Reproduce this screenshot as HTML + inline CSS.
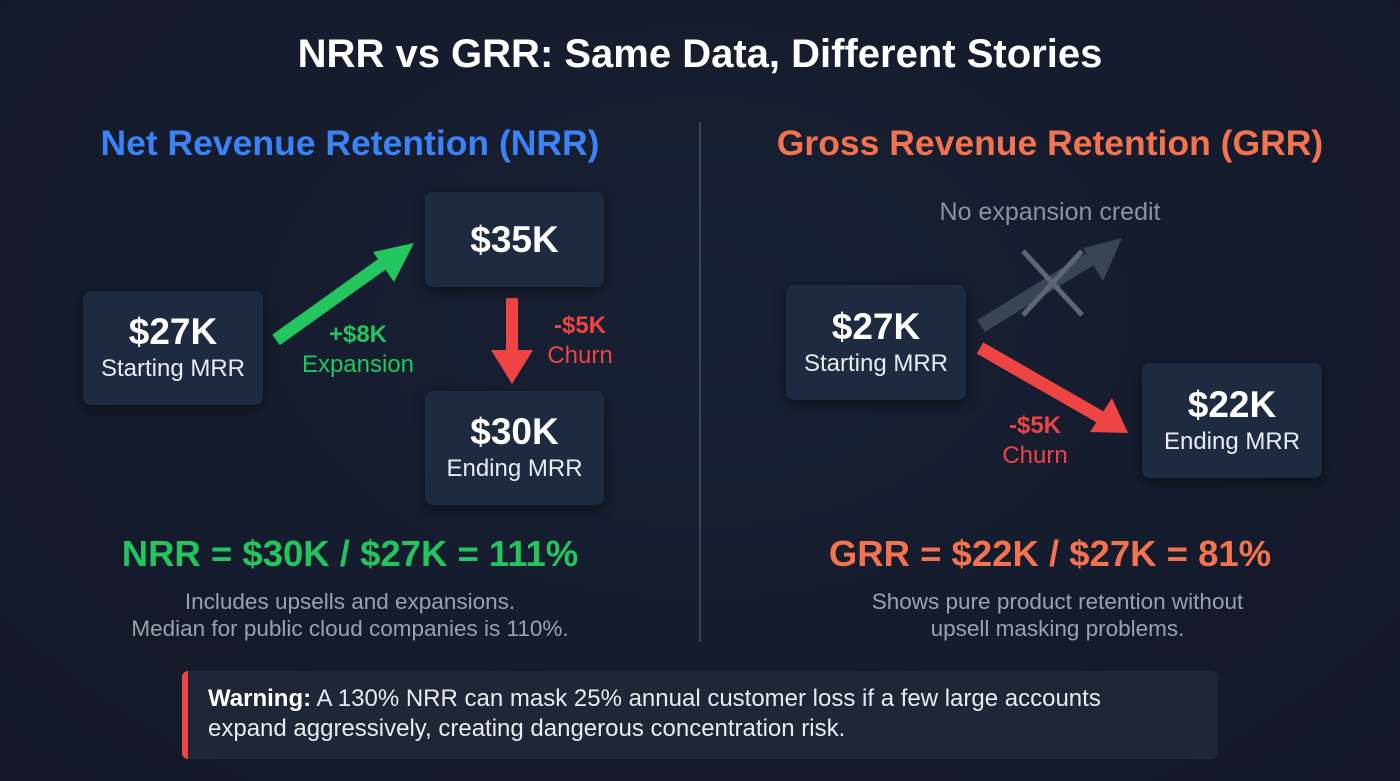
<!DOCTYPE html>
<html><head><meta charset="utf-8"><style>
body{margin:0;width:1400px;height:781px;background:radial-gradient(ellipse at 50% 40%,#182034,#121827);font-family:"Liberation Sans",sans-serif;position:relative;overflow:hidden;color:#fff}
.t{position:absolute;text-align:center;white-space:nowrap}
.box{position:absolute;background:#1e2a40;border-radius:8px;box-shadow:0 4px 12px rgba(0,0,0,.45);text-align:center;display:flex;flex-direction:column;justify-content:center;align-items:center}
.box b{font-size:37px;line-height:42px}
.box span{font-size:24px;line-height:32px;color:#e8ecf2}
</style></head><body>
<div class="t" style="left:0;width:1400px;top:32px;font-size:40px;font-weight:bold">NRR vs GRR: Same Data, Different Stories</div>
<div class="t" style="left:50px;width:600px;top:123px;font-size:35.5px;font-weight:bold;color:#3b82f6">Net Revenue Retention (NRR)</div>
<div class="t" style="left:750px;width:600px;top:123px;font-size:35.5px;font-weight:bold;color:#f4734f">Gross Revenue Retention (GRR)</div>
<div style="position:absolute;left:699px;top:122px;width:2px;height:520px;background:#3a4354"></div>

<svg width="1400" height="781" style="position:absolute;left:0;top:0">
<line x1="276" y1="340" x2="385" y2="262" stroke="#22c55e" stroke-width="13"/>
<polygon points="414,243 394,282 373,252" fill="#22c55e"/>
<line x1="512" y1="298" x2="512" y2="350" stroke="#ef4444" stroke-width="12"/>
<polygon points="491,350 533,350 512,384" fill="#ef4444"/>
<line x1="981" y1="326" x2="1095" y2="256" stroke="#394455" stroke-width="14"/>
<polygon points="1122,238 1103,281 1083,248" fill="#394455"/>
<line x1="1023" y1="251" x2="1082" y2="315" stroke="#5f6673" stroke-width="5"/>
<line x1="1082" y1="251" x2="1023" y2="315" stroke="#5f6673" stroke-width="5"/>
<line x1="980" y1="348" x2="1102" y2="418" stroke="#ef4444" stroke-width="13"/>
<polygon points="1090,432 1112,398 1128,433" fill="#ef4444"/>
</svg>

<div class="box" style="left:83px;top:291px;width:180px;height:114px"><b>$27K</b><span>Starting MRR</span></div>
<div class="box" style="left:425px;top:192px;width:179px;height:95px"><b>$35K</b></div>
<div class="box" style="left:425px;top:391px;width:179px;height:114px"><b>$30K</b><span>Ending MRR</span></div>
<div class="t" style="left:298px;width:120px;top:320px;color:#22c55e;font-size:24px;line-height:30px"><b>+$8K</b><br>Expansion</div>
<div class="t" style="left:530px;width:100px;top:311px;color:#ef4444;font-size:24px;line-height:30px"><b>-$5K</b><br>Churn</div>

<div class="box" style="left:786px;top:285px;width:180px;height:115px"><b>$27K</b><span>Starting MRR</span></div>
<div class="box" style="left:1142px;top:363px;width:180px;height:115px"><b>$22K</b><span>Ending MRR</span></div>
<div class="t" style="left:900px;width:300px;top:198px;font-size:25px;color:#8a93a3">No expansion credit</div>
<div class="t" style="left:985px;width:100px;top:411px;color:#ef4444;font-size:24px;line-height:30px"><b>-$5K</b><br>Churn</div>

<div class="t" style="left:50px;width:600px;top:533px;font-size:36.5px;font-weight:bold;color:#22c55e">NRR = $30K / $27K = 111%</div>
<div class="t" style="left:50px;width:600px;top:588px;font-size:22.5px;line-height:27px;color:#9aa2b0">Includes upsells and expansions.<br>Median for public cloud companies is 110%.</div>
<div class="t" style="left:750px;width:600px;top:533px;font-size:36.5px;font-weight:bold;color:#f4734f">GRR = $22K / $27K = 81%</div>
<div class="t" style="left:750px;width:615px;top:588px;font-size:22.5px;line-height:27px;color:#9aa2b0">Shows pure product retention without<br>upsell masking problems.</div>

<div style="position:absolute;left:182px;top:671px;width:1036px;height:88px;background:#1e2638;border-radius:6px;border-left:6px solid #ef4444;box-sizing:border-box;padding:13px 60px 0 20px;font-size:24px;line-height:30px;color:#e8ecf2"><b style="color:#fff">Warning:</b> A 130% NRR can mask 25% annual customer loss if a few large accounts expand aggressively, creating dangerous concentration risk.</div>
</body></html>
